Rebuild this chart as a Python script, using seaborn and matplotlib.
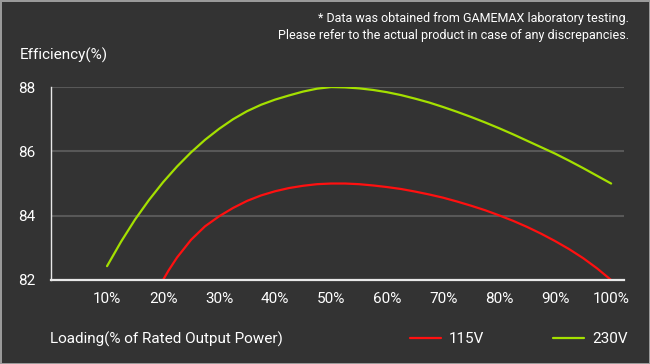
import pandas as pd
import seaborn as sns
import matplotlib.pyplot as plt

# Efficiency curves (loading % -> efficiency %)
load_230 = [10, 12.5, 15, 17.5, 20, 22.5, 25, 27.5, 30, 32.5, 35, 37.5, 40, 42.5, 45,
            47.5, 50, 52.5, 55, 57.5, 60, 62.5, 65, 67.5, 70, 72.5, 75, 77.5, 80,
            82.5, 85, 87.5, 90, 92.5, 95, 97.5, 100]
eff_230 = [82.43, 83.19, 83.88, 84.49, 85.04, 85.53, 85.97, 86.36, 86.70, 87.00, 87.25,
           87.45, 87.61, 87.74, 87.86, 87.95, 88.0, 87.99, 87.96, 87.91, 87.84, 87.75,
           87.64, 87.52, 87.38, 87.23, 87.07, 86.90, 86.72, 86.53, 86.33, 86.13,
           85.93, 85.71, 85.48, 85.24, 85.0]

load_115 = [20, 21, 22.5, 25, 27.5, 30, 32.5, 35, 37.5, 40, 42.5, 45, 47.5, 50, 52.5,
            55, 57.5, 60, 62.5, 65, 67.5, 70, 72.5, 75, 77.5, 80, 82.5, 85, 87.5,
            90, 92.5, 95, 97.5, 100]
eff_115 = [82.0, 82.3, 82.7, 83.25, 83.67, 83.98, 84.24, 84.46, 84.63, 84.76, 84.86,
           84.93, 84.98, 85.0, 85.0, 84.98, 84.94, 84.89, 84.83, 84.75, 84.66, 84.56,
           84.44, 84.31, 84.17, 84.01, 83.84, 83.65, 83.44, 83.21, 82.96, 82.68,
           82.36, 82.0]

x_ticks = [10, 20, 30, 40, 50, 60, 70, 80, 90, 100]
y_ticks = [82, 84, 86, 88]

df = pd.concat([
    pd.DataFrame({"load": load_115, "eff": eff_115, "series": "115V"}),
    pd.DataFrame({"load": load_230, "eff": eff_230, "series": "230V"}),
])

bg = "#333333"
red = "#ff1010"
green = "#a4e000"

sns.set_theme(style="dark", rc={
    "figure.facecolor": bg,
    "axes.facecolor": bg,
    "text.color": "white",
    "xtick.color": "white",
    "ytick.color": "white",
    "lines.solid_joinstyle": "round",
})
plt.rcParams["font.family"] = ["Roboto", "DejaVu Sans"]

fig = plt.figure(figsize=(6.5, 3.64), dpi=100)
fig.patch.set_edgecolor("#9a9a9a")
fig.patch.set_linewidth(2)
ax = fig.add_axes([0.0785, 0.2308, 0.8815, 0.530])

sns.lineplot(data=df, x="load", y="eff", hue="series", ax=ax,
             palette={"115V": red, "230V": green},
             linewidth=1.6, legend=False, sort=False)

ax.set_xlim(0, 102.3)
ax.set_ylim(82, 88)
ax.set_xticks(x_ticks)
ax.set_xticklabels([f"{v}%" for v in x_ticks])
ax.set_yticks(y_ticks)
ax.set_xlabel("")
ax.set_ylabel("")
ax.grid(axis="y", color="#585858", linewidth=1.5)
ax.grid(axis="x", visible=False)
ax.set_axisbelow(True)

for side in ["top", "right"]:
    ax.spines[side].set_visible(False)
ax.spines["left"].set_color("#e8e8e8")
ax.spines["bottom"].set_color("#e8e8e8")
ax.spines["left"].set_linewidth(1)
ax.spines["bottom"].set_linewidth(1.6)

ax.tick_params(axis="x", direction="in", length=7, width=1, color="#e8e8e8",
               pad=9, labelsize=11)
ax.tick_params(axis="y", length=0, pad=11, labelsize=11)

fig.text(0.031, 0.848, "Efficiency(%)", fontsize=11, va="center", ha="left")
fig.text(0.968, 0.950, "* Data was obtained from GAMEMAX laboratory testing.",
         fontsize=9, ha="right", va="center")
fig.text(0.968, 0.903, "Please refer to the actual product in case of any discrepancies.",
         fontsize=9, ha="right", va="center")
fig.text(0.077, 0.068, "Loading(% of Rated Output Power)", fontsize=11,
         ha="left", va="center")

handles = [plt.Line2D([], [], color=red, linewidth=1.6),
           plt.Line2D([], [], color=green, linewidth=1.6)]
fig.legend(handles, ["115V", "230V"], loc="center left",
           bbox_to_anchor=(0.610, 0.068), ncol=2, frameon=False,
           fontsize=11, handlelength=2.0, handletextpad=0.55,
           columnspacing=4.5, labelcolor="white")

fig.savefig("out.png", dpi=100, facecolor=fig.get_facecolor(),
            edgecolor=fig.patch.get_edgecolor())
